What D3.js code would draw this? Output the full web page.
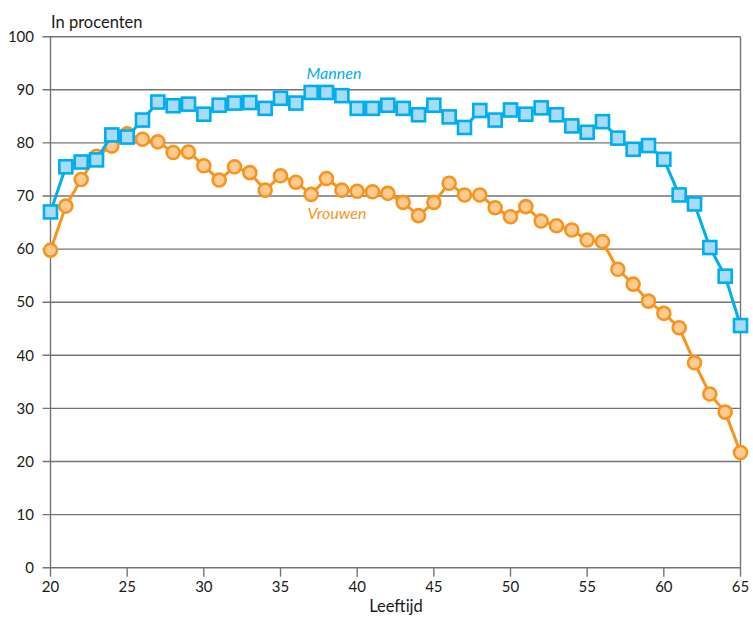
<!DOCTYPE html>
<html>
<head>
<meta charset="utf-8">
<script src="https://cdn.jsdelivr.net/npm/d3@7"></script>
<style>
  body { margin: 0; background: #fff; }
  svg { font-family: Lato, "Open Sans", sans-serif; }
</style>
</head>
<body>
<svg width="753" height="619"></svg>
<script>
// leeftijd 20..65
var ages = d3.range(20, 66);

var mannen = [67.0, 75.5, 76.4, 76.8, 81.5, 81.1, 84.3, 87.7, 87.0, 87.3,
              85.4, 87.1, 87.5, 87.6, 86.5, 88.4, 87.5, 89.5, 89.5, 88.9,
              86.5, 86.5, 87.1, 86.5, 85.3, 87.1, 84.9, 82.9, 86.1, 84.3,
              86.2, 85.4, 86.6, 85.3, 83.2, 82.0, 84.0, 80.9, 78.8, 79.5,
              76.9, 70.2, 68.5, 60.3, 54.9, 45.6];

var vrouwen = [59.8, 68.1, 73.1, 77.5, 79.4, 81.7, 80.7, 80.2, 78.2, 78.3,
               75.7, 73.0, 75.5, 74.4, 71.1, 73.8, 72.6, 70.3, 73.3, 71.1,
               70.9, 70.8, 70.5, 68.8, 66.3, 68.8, 72.4, 70.2, 70.2, 67.8,
               66.1, 68.0, 65.3, 64.4, 63.6, 61.7, 61.4, 56.2, 53.4, 50.2,
               47.9, 45.2, 38.6, 32.7, 29.3, 21.7];

var yTicks = [0, 10, 20, 30, 40, 50, 60, 70, 80, 90, 100];
var xTicks = [20, 25, 30, 35, 40, 45, 50, 55, 60, 65];

var svg = d3.select("svg");
var grey = "#747474";

var x = d3.scaleLinear().domain([20, 65]).range([50.5, 740.5]);
var y = d3.scaleLinear().domain([0, 100]).range([567.7, 36.7]);

// gridlines
svg.append("g")
    .selectAll("line")
    .data(yTicks)
    .enter()
    .append("line")
    .attr("x1", x(20) - 8)
    .attr("x2", x(65))
    .attr("y1", function (d) { return y(d); })
    .attr("y2", function (d) { return y(d); })
    .style("stroke", grey)
    .style("stroke-width", 1.4);

// left + right vertical lines
svg.append("g")
    .selectAll("line")
    .data([20, 65])
    .enter()
    .append("line")
    .attr("x1", function (d) { return x(d); })
    .attr("x2", function (d) { return x(d); })
    .attr("y1", y(100))
    .attr("y2", y(0))
    .style("stroke", grey)
    .style("stroke-width", 1.4);

// x ticks
svg.append("g")
    .selectAll("line")
    .data(xTicks)
    .enter()
    .append("line")
    .attr("x1", function (d) { return x(d); })
    .attr("x2", function (d) { return x(d); })
    .attr("y1", y(0))
    .attr("y2", y(0) + 9)
    .style("stroke", grey)
    .style("stroke-width", 1.4);

svg.append("g")
    .selectAll("text")
    .data(yTicks)
    .enter()
    .append("text")
    .attr("x", 34)
    .attr("y", function (d) { return y(d); })
    .attr("dy", "0.35em")
    .attr("text-anchor", "end")
    .style("font-size", "15px")
    .style("fill", "#1a1a1a")
    .text(function (d) { return d; });

svg.append("g")
    .selectAll("text")
    .data(xTicks)
    .enter()
    .append("text")
    .attr("x", function (d) { return x(d); })
    .attr("y", 592)
    .attr("text-anchor", "middle")
    .style("font-size", "15px")
    .style("fill", "#1a1a1a")
    .text(function (d) { return d; });

svg.append("text")
    .attr("x", 51).attr("y", 28)
    .style("font-size", "16.5px")
    .style("fill", "#1a1a1a")
    .text("In procenten");

svg.append("text")
    .attr("x", 396).attr("y", 612)
    .attr("text-anchor", "middle")
    .style("font-size", "16.5px")
    .style("fill", "#1a1a1a")
    .text("Leeftijd");

function drawSeries(values, stroke, fill, shape) {
    var pts = values.map(function (v, i) { return [ages[i], v]; });
    var line = d3.line()
        .x(function (d) { return x(d[0]); })
        .y(function (d) { return y(d[1]); });
    var g = svg.append("g");
    g.append("path")
        .datum(pts)
        .attr("d", line)
        .style("fill", "none")
        .style("stroke", stroke)
        .style("stroke-width", 3)
        .style("stroke-linejoin", "round");
    if (shape == "square") {
        g.selectAll("rect")
            .data(pts)
            .enter()
            .append("rect")
            .attr("x", function (d) { return x(d[0]) - 6.5; })
            .attr("y", function (d) { return y(d[1]) - 6.5; })
            .attr("width", 13)
            .attr("height", 13)
            .style("fill", fill)
            .style("stroke", stroke)
            .style("stroke-width", 2.6);
    } else {
        g.selectAll("circle")
            .data(pts)
            .enter()
            .append("circle")
            .attr("cx", function (d) { return x(d[0]); })
            .attr("cy", function (d) { return y(d[1]); })
            .attr("r", 6.5)
            .style("fill", fill)
            .style("stroke", stroke)
            .style("stroke-width", 2.6);
    }
}

drawSeries(vrouwen, "#f7941d", "#fdcb91", "circle");
drawSeries(mannen, "#00aeef", "#a8dcf6", "square");

svg.append("text")
    .attr("x", 334).attr("y", 79)
    .attr("text-anchor", "middle")
    .style("font-size", "16px")
    .style("font-style", "italic")
    .style("fill", "#00aeef")
    .text("Mannen");

svg.append("text")
    .attr("x", 337).attr("y", 219)
    .attr("text-anchor", "middle")
    .style("font-size", "16px")
    .style("font-style", "italic")
    .style("fill", "#f7941d")
    .text("Vrouwen");
</script>
</body>
</html>
